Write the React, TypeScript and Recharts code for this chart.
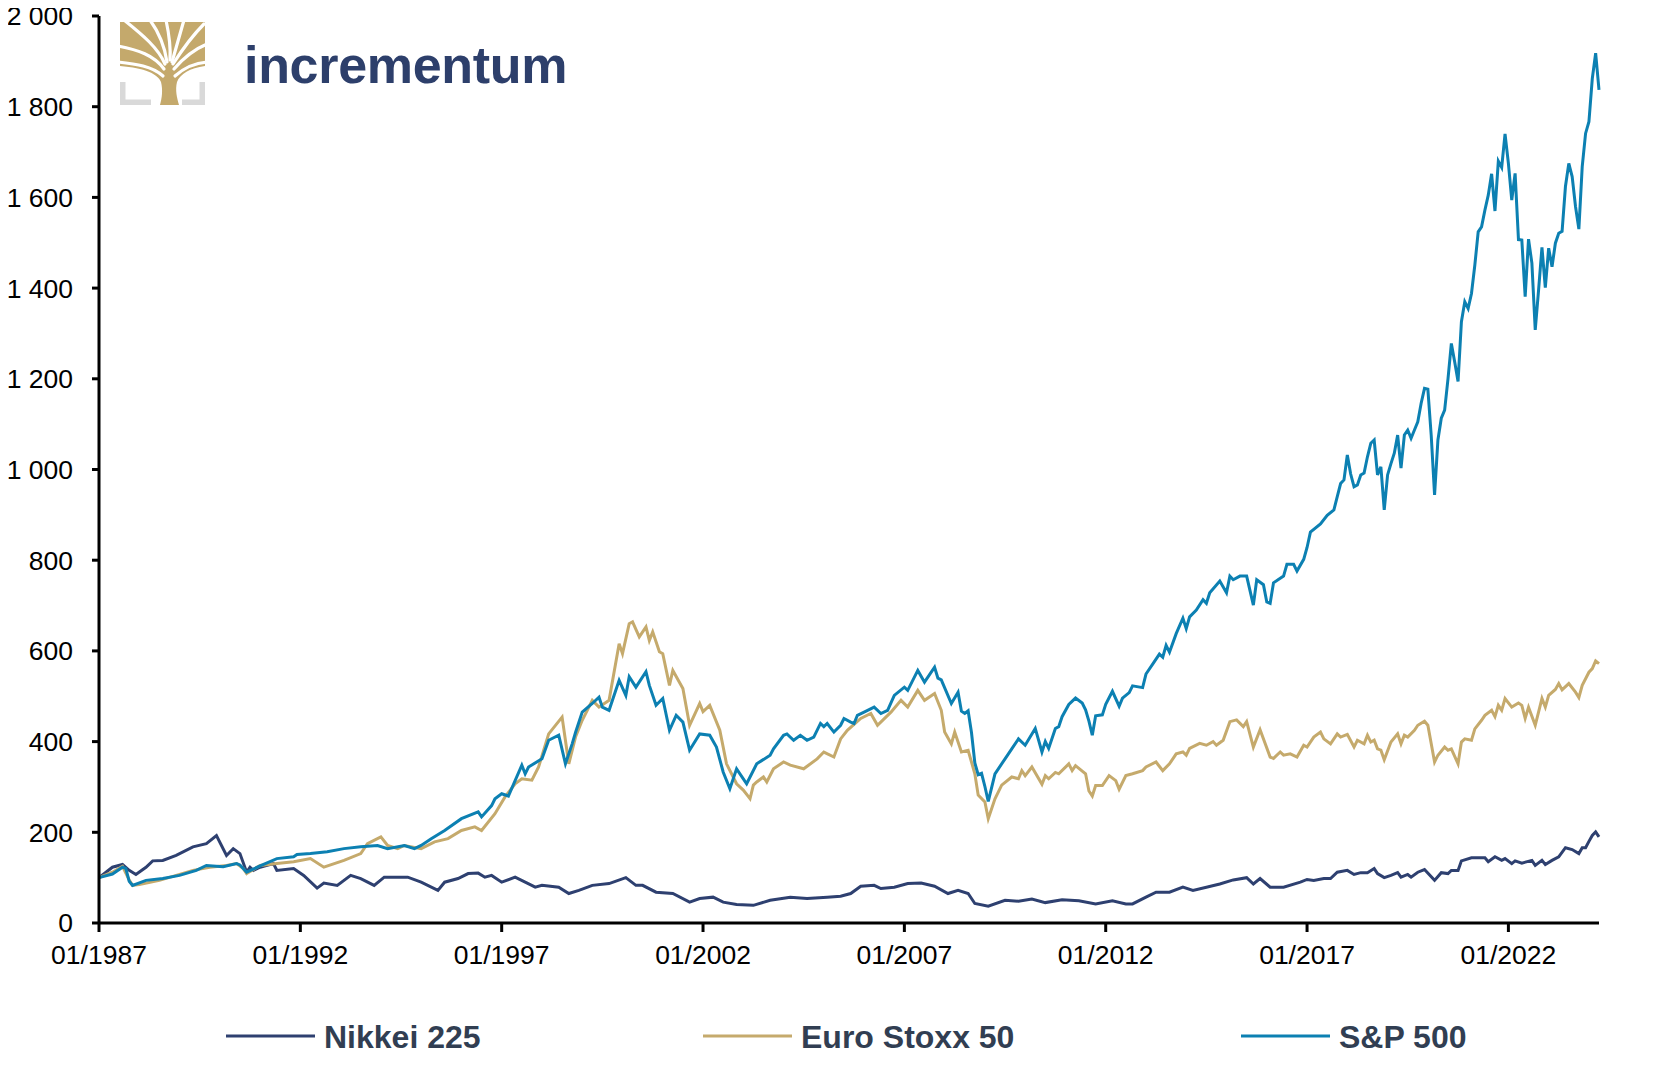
import { Line, LineChart, XAxis, YAxis } from "recharts";

// monthly index levels, 01/1987 = 100, read off the reference chart
const nikkei225: [string, number][] = [
	["1987-01", 100], ["1987-05", 123], ["1987-08", 129], ["1987-10", 116], ["1987-12", 107],
	["1988-03", 123], ["1988-05", 137], ["1988-08", 138], ["1988-12", 149], ["1989-05", 168],
	["1989-09", 175], ["1989-12", 193], ["1990-03", 149], ["1990-05", 164], ["1990-07", 153],
	["1990-09", 112], ["1990-10", 123], ["1990-11", 116], ["1991-01", 123], ["1991-05", 131],
	["1991-06", 116], ["1991-11", 120], ["1992-02", 105], ["1992-06", 77], ["1992-08", 88],
	["1992-12", 83], ["1993-04", 105], ["1993-07", 98], ["1993-11", 83], ["1994-02", 101],
	["1994-05", 101], ["1994-09", 101], ["1995-01", 90], ["1995-06", 72], ["1995-08", 90],
	["1995-12", 98], ["1996-03", 109], ["1996-06", 110], ["1996-08", 101], ["1996-10", 105],
	["1997-01", 90], ["1997-05", 101], ["1997-08", 90], ["1997-11", 79], ["1998-01", 83],
	["1998-06", 79], ["1998-09", 65], ["1998-12", 72], ["1999-04", 83], ["1999-09", 87],
	["2000-02", 100], ["2000-05", 83], ["2000-07", 83], ["2000-11", 68], ["2001-04", 65],
	["2001-09", 46], ["2001-12", 54], ["2002-04", 57], ["2002-07", 46], ["2002-11", 41],
	["2003-04", 39], ["2003-09", 50], ["2004-03", 57], ["2004-08", 54], ["2005-02", 57],
	["2005-06", 59], ["2005-09", 65], ["2005-12", 81], ["2006-04", 83], ["2006-06", 76],
	["2006-10", 79], ["2007-02", 87], ["2007-06", 88], ["2007-10", 81], ["2008-02", 65],
	["2008-05", 72], ["2008-08", 65], ["2008-10", 43], ["2009-02", 37], ["2009-07", 50],
	["2009-11", 48], ["2010-03", 53], ["2010-07", 45], ["2010-12", 51], ["2011-05", 49],
	["2011-10", 42], ["2012-03", 49], ["2012-07", 42], ["2012-09", 42], ["2013-01", 57],
	["2013-04", 68], ["2013-08", 68], ["2013-12", 79], ["2014-03", 72], ["2014-07", 79],
	["2014-11", 86], ["2015-03", 95], ["2015-07", 100], ["2015-09", 86], ["2015-11", 98],
	["2016-02", 79], ["2016-06", 79], ["2016-11", 90], ["2017-01", 96], ["2017-03", 94],
	["2017-06", 98], ["2017-08", 98], ["2017-10", 112], ["2018-01", 116], ["2018-03", 107],
	["2018-05", 111], ["2018-07", 111], ["2018-09", 120], ["2018-10", 109], ["2018-12", 100],
	["2019-02", 105], ["2019-04", 111], ["2019-05", 101], ["2019-07", 107], ["2019-08", 101],
	["2019-10", 112], ["2019-12", 118], ["2020-03", 94], ["2020-05", 111], ["2020-07", 109],
	["2020-08", 116], ["2020-10", 116], ["2020-11", 137], ["2021-02", 144], ["2021-06", 144],
	["2021-07", 135], ["2021-09", 146], ["2021-11", 138], ["2021-12", 142], ["2022-02", 131],
	["2022-03", 137], ["2022-05", 132], ["2022-08", 138], ["2022-09", 127], ["2022-11", 138],
	["2022-12", 129], ["2023-02", 138], ["2023-04", 146], ["2023-06", 166], ["2023-08", 162],
	["2023-10", 153], ["2023-11", 166], ["2023-12", 166], ["2024-01", 180], ["2024-02", 193],
	["2024-03", 201], ["2024-04", 190],
];

const euroStoxx50: [string, number][] = [
	["1987-01", 100], ["1987-05", 112], ["1987-08", 125], ["1987-10", 95], ["1987-11", 83],
	["1988-01", 85], ["1988-07", 94], ["1989-05", 116], ["1989-10", 123], ["1990-03", 127],
	["1990-06", 131], ["1990-08", 120], ["1990-09", 109], ["1991-01", 127], ["1991-06", 131],
	["1991-11", 135], ["1992-04", 142], ["1992-08", 123], ["1993-02", 138], ["1993-07", 153],
	["1993-09", 175], ["1994-01", 190], ["1994-03", 171], ["1994-06", 164], ["1994-08", 171],
	["1995-01", 164], ["1995-05", 179], ["1995-09", 186], ["1996-01", 204], ["1996-05", 212],
	["1996-07", 204], ["1996-11", 241], ["1997-02", 278], ["1997-05", 307], ["1997-07", 318],
	["1997-10", 315], ["1997-12", 344], ["1998-03", 417], ["1998-07", 454], ["1998-09", 351],
	["1998-11", 410], ["1999-01", 447], ["1999-04", 491], ["1999-06", 476], ["1999-09", 491],
	["1999-12", 616], ["2000-01", 594], ["2000-03", 660], ["2000-04", 664], ["2000-06", 631],
	["2000-08", 653], ["2000-09", 623], ["2000-10", 642], ["2000-12", 598], ["2001-01", 594],
	["2001-03", 524], ["2001-04", 557], ["2001-07", 517], ["2001-09", 436], ["2001-12", 484],
	["2002-01", 466], ["2002-03", 480], ["2002-06", 425], ["2002-08", 351], ["2002-11", 307],
	["2003-01", 293], ["2003-03", 274], ["2003-04", 304], ["2003-05", 311], ["2003-07", 322],
	["2003-08", 311], ["2003-10", 340], ["2004-01", 355], ["2004-03", 348], ["2004-07", 340],
	["2004-11", 362], ["2005-01", 377], ["2005-04", 366], ["2005-06", 406], ["2005-08", 425],
	["2005-12", 451], ["2006-03", 462], ["2006-05", 436], ["2006-09", 465], ["2006-12", 491],
	["2007-02", 476], ["2007-05", 513], ["2007-07", 491], ["2007-10", 506], ["2007-12", 469],
	["2008-01", 421], ["2008-03", 395], ["2008-04", 421], ["2008-06", 377], ["2008-08", 381],
	["2008-10", 329], ["2008-11", 282], ["2009-01", 267], ["2009-02", 230], ["2009-04", 274],
	["2009-06", 304], ["2009-09", 322], ["2009-11", 318], ["2009-12", 336], ["2010-01", 325],
	["2010-03", 344], ["2010-06", 306], ["2010-07", 325], ["2010-08", 318], ["2010-10", 332],
	["2010-11", 329], ["2011-02", 351], ["2011-03", 336], ["2011-04", 347], ["2011-07", 329],
	["2011-08", 291], ["2011-09", 280], ["2011-10", 303], ["2011-12", 303], ["2012-02", 325],
	["2012-04", 314], ["2012-05", 295], ["2012-07", 325], ["2012-09", 329], ["2012-12", 336],
	["2013-01", 344], ["2013-04", 355], ["2013-06", 336], ["2013-08", 351], ["2013-10", 373],
	["2013-12", 377], ["2014-01", 370], ["2014-02", 385], ["2014-05", 396], ["2014-07", 392],
	["2014-09", 400], ["2014-10", 392], ["2014-12", 403], ["2015-02", 444], ["2015-04", 448],
	["2015-06", 433], ["2015-07", 444], ["2015-09", 388], ["2015-11", 426], ["2016-02", 366],
	["2016-03", 363], ["2016-05", 377], ["2016-06", 370], ["2016-08", 373], ["2016-10", 366],
	["2016-12", 392], ["2017-01", 388], ["2017-03", 410], ["2017-05", 421], ["2017-06", 406],
	["2017-08", 395], ["2017-10", 417], ["2017-11", 410], ["2018-01", 416], ["2018-03", 388],
	["2018-04", 403], ["2018-06", 395], ["2018-07", 414], ["2018-08", 399], ["2018-09", 403],
	["2018-10", 384], ["2018-11", 381], ["2018-12", 360], ["2019-02", 399], ["2019-04", 417],
	["2019-05", 395], ["2019-06", 414], ["2019-07", 410], ["2019-09", 425], ["2019-10", 436],
	["2019-12", 445], ["2020-01", 436], ["2020-03", 355], ["2020-04", 370], ["2020-06", 388],
	["2020-07", 381], ["2020-08", 384], ["2020-10", 351], ["2020-11", 399], ["2020-12", 406],
	["2021-02", 403], ["2021-03", 428], ["2021-05", 447], ["2021-06", 458], ["2021-08", 469],
	["2021-09", 455], ["2021-10", 480], ["2021-11", 469], ["2021-12", 495], ["2022-02", 476],
	["2022-04", 485], ["2022-05", 480], ["2022-06", 451], ["2022-07", 476], ["2022-09", 436],
	["2022-11", 495], ["2022-12", 476], ["2023-01", 502], ["2023-03", 515], ["2023-04", 528],
	["2023-05", 514], ["2023-07", 528], ["2023-09", 509], ["2023-10", 497], ["2023-11", 524],
	["2024-01", 553], ["2024-02", 561], ["2024-03", 578], ["2024-04", 572],
];

const sp500: [string, number][] = [
	["1987-01", 100], ["1987-05", 108], ["1987-08", 123], ["1987-09", 120], ["1987-10", 92],
	["1987-11", 83], ["1988-03", 94], ["1988-08", 98], ["1989-01", 105], ["1989-06", 116],
	["1989-09", 127], ["1990-02", 124], ["1990-06", 131], ["1990-07", 128], ["1990-09", 112],
	["1991-01", 126], ["1991-06", 142], ["1991-11", 146], ["1991-12", 151], ["1992-04", 153],
	["1992-09", 157], ["1993-02", 164], ["1993-07", 168], ["1993-12", 171], ["1994-03", 164],
	["1994-08", 171], ["1994-11", 164], ["1995-01", 171], ["1995-04", 186], ["1995-08", 204],
	["1996-01", 230], ["1996-06", 245], ["1996-07", 234], ["1996-10", 259], ["1996-11", 274],
	["1997-01", 285], ["1997-03", 280], ["1997-07", 348], ["1997-08", 329], ["1997-09", 344],
	["1998-01", 362], ["1998-03", 403], ["1998-06", 414], ["1998-08", 351], ["1998-10", 395],
	["1998-11", 420], ["1999-01", 465], ["1999-04", 484], ["1999-06", 498], ["1999-07", 476],
	["1999-09", 469], ["1999-12", 535], ["2000-02", 502], ["2000-03", 543], ["2000-05", 520],
	["2000-08", 554], ["2000-09", 524], ["2000-11", 480], ["2001-01", 495], ["2001-03", 425],
	["2001-05", 458], ["2001-07", 443], ["2001-09", 381], ["2001-12", 417], ["2002-03", 414],
	["2002-05", 388], ["2002-07", 333], ["2002-09", 296], ["2002-11", 340], ["2003-02", 307],
	["2003-05", 351], ["2003-09", 370], ["2003-10", 384], ["2004-01", 414], ["2004-02", 417],
	["2004-04", 403], ["2004-06", 414], ["2004-08", 403], ["2004-10", 410], ["2004-12", 440],
	["2005-01", 433], ["2005-02", 440], ["2005-04", 421], ["2005-06", 436], ["2005-07", 451],
	["2005-09", 443], ["2005-10", 440], ["2005-11", 458], ["2006-01", 465], ["2006-04", 476],
	["2006-06", 462], ["2006-08", 469], ["2006-10", 502], ["2007-01", 520], ["2007-02", 513],
	["2007-05", 557], ["2007-07", 531], ["2007-10", 564], ["2007-11", 540], ["2007-12", 536],
	["2008-03", 484], ["2008-05", 509], ["2008-06", 467], ["2008-07", 462], ["2008-08", 468],
	["2008-09", 420], ["2008-10", 353], ["2008-11", 327], ["2008-12", 330], ["2009-01", 301],
	["2009-02", 268], ["2009-04", 329], ["2009-07", 362], ["2009-09", 384], ["2009-11", 406],
	["2010-01", 392], ["2010-04", 429], ["2010-06", 377], ["2010-07", 400], ["2010-08", 385],
	["2010-10", 429], ["2010-11", 433], ["2010-12", 455], ["2011-02", 482], ["2011-04", 496],
	["2011-06", 485], ["2011-07", 470], ["2011-08", 445], ["2011-09", 414], ["2011-10", 457],
	["2011-12", 459], ["2012-01", 482], ["2012-03", 511], ["2012-05", 478], ["2012-06", 496],
	["2012-08", 508], ["2012-09", 523], ["2012-12", 519], ["2013-01", 549], ["2013-03", 571],
	["2013-05", 593], ["2013-06", 586], ["2013-07", 612], ["2013-08", 597], ["2013-10", 638],
	["2013-12", 672], ["2014-01", 649], ["2014-02", 675], ["2014-04", 690], ["2014-06", 713],
	["2014-07", 705], ["2014-08", 728], ["2014-11", 754], ["2015-01", 728], ["2015-02", 765],
	["2015-03", 757], ["2015-05", 765], ["2015-07", 765], ["2015-09", 701], ["2015-10", 757],
	["2015-12", 746], ["2016-01", 708], ["2016-02", 705], ["2016-03", 750], ["2016-06", 765],
	["2016-07", 791], ["2016-09", 791], ["2016-10", 776], ["2016-12", 802], ["2017-01", 828],
	["2017-02", 862], ["2017-05", 880], ["2017-07", 899], ["2017-09", 911], ["2017-10", 940],
	["2017-11", 969], ["2017-12", 977], ["2018-01", 1032], ["2018-02", 990], ["2018-03", 962],
	["2018-04", 966], ["2018-05", 988], ["2018-06", 992], ["2018-07", 1028], ["2018-08", 1058],
	["2018-09", 1065], ["2018-10", 988], ["2018-11", 1006], ["2018-12", 911], ["2019-01", 988],
	["2019-02", 1013], ["2019-03", 1036], ["2019-04", 1076], ["2019-05", 1003], ["2019-06", 1076],
	["2019-07", 1087], ["2019-08", 1069], ["2019-09", 1087], ["2019-10", 1105], ["2019-11", 1146],
	["2019-12", 1179], ["2020-01", 1177], ["2020-02", 1075], ["2020-03", 944], ["2020-04", 1065],
	["2020-05", 1113], ["2020-06", 1131], ["2020-07", 1200], ["2020-08", 1278], ["2020-09", 1237],
	["2020-10", 1194], ["2020-11", 1326], ["2020-12", 1370], ["2021-01", 1355], ["2021-02", 1388],
	["2021-03", 1451], ["2021-04", 1524], ["2021-05", 1535], ["2021-06", 1572], ["2021-07", 1605],
	["2021-08", 1652], ["2021-09", 1570], ["2021-10", 1680], ["2021-11", 1666], ["2021-12", 1740],
	["2022-01", 1675], ["2022-02", 1594], ["2022-03", 1653], ["2022-04", 1507], ["2022-05", 1506],
	["2022-06", 1381], ["2022-07", 1508], ["2022-08", 1455], ["2022-09", 1308], ["2022-10", 1396],
	["2022-11", 1490], ["2022-12", 1401], ["2023-01", 1488], ["2023-02", 1447], ["2023-03", 1499],
	["2023-04", 1521], ["2023-05", 1525], ["2023-06", 1624], ["2023-07", 1675], ["2023-08", 1646],
	["2023-09", 1580], ["2023-10", 1530], ["2023-11", 1668], ["2023-12", 1741], ["2024-01", 1767],
	["2024-02", 1862], ["2024-03", 1918], ["2024-04", 1837],
];

const xTickYears = [1987, 1992, 1997, 2002, 2007, 2012, 2017, 2022];
const yTickValues = [0, 200, 400, 600, 800, 1000, 1200, 1400, 1600, 1800, 2000];

const COLORS = {
	nikkei: "#2E4070",
	euro: "#C5AA6C",
	sp: "#0C80B2",
	logo: "#2D3F6B",
	legend: "#313E52",
};

const FONT = "'Liberation Sans', Arial, sans-serif";

// "1987-04" -> 1987.25
function toPoints(list: [string, number][]) {
	return list.map(([d, v]) => {
		const [y, m] = d.split("-").map(Number);
		return { t: y + (m - 1) / 12, v };
	});
}

const fmtThousands = (v: number) =>
	String(v).replace(/\B(?=(\d{3})+(?!\d))/g, " ");

function Logo() {
	return (
		<g>
			<g transform="translate(112,22)">
				{/* gold crown + trunk */}
				<path
					d="M0,0 H85 V44 C70,46 60,52 57,60 C55,68 57,76 59,83 H40 C42,76 43,68 41,60 C38,52 25,46 0,44 Z"
					fill="#C4A96C"
				/>
				{/* white gaps between branches */}
				<g stroke="#fff" strokeWidth={3.2} fill="none" strokeLinecap="round">
					<path d="M43,54 C32,44 16,42 -2,40" />
					<path d="M44,47 C34,33 18,28 -2,24" />
					<path d="M45,42 C38,26 24,14 4,-2" />
					<path d="M47,40 C45,26 40,12 30,-2" />
					<path d="M50,38 C51,24 49,12 46,-2" />
					<path d="M52,40 C56,26 60,12 64,-2" />
					<path d="M53,42 C62,28 70,16 84,2" />
					<path d="M54,47 C65,34 75,27 87,22" />
					<path d="M55,54 C65,45 75,41 87,40" />
				</g>
				{/* grey corner brackets */}
				<path d="M0,60 H5.5 V77.5 H31 V83 H0 Z" fill="#D9D9D9" />
				<path d="M85,60 H79.5 V77.5 H62 V83 H85 Z" fill="#D9D9D9" />
			</g>
			<text
				x={236}
				y={83}
				fontFamily={FONT}
				fontWeight={700}
				fontSize={52}
				fill={COLORS.logo}
				letterSpacing={-0.3}
			>
				incrementum
			</text>
		</g>
	);
}

function LegendRow() {
	const items = [
		{ label: "Nikkei 225", color: COLORS.nikkei, x: 218 },
		{ label: "Euro Stoxx 50", color: COLORS.euro, x: 695 },
		{ label: "S&P 500", color: COLORS.sp, x: 1233 },
	];
	return (
		<g>
			{items.map((it) => (
				<g key={it.label}>
					<line
						x1={it.x}
						x2={it.x + 89}
						y1={1036}
						y2={1036}
						stroke={it.color}
						strokeWidth={3}
					/>
					<text
						x={it.x + 98}
						y={1047.5}
						fontFamily={FONT}
						fontWeight={700}
						fontSize={32}
						fill={COLORS.legend}
					>
						{it.label}
					</text>
				</g>
			))}
		</g>
	);
}

export default function App() {
	const tickStyle = { fontSize: 26.5, fill: "#000", fontFamily: FONT };
	// wrapper pulled up over the body margin so the top tick label is not clipped
	return (
		<div
			style={{
				position: "relative",
				width: 1669,
				height: 1066,
				marginTop: -8,
				fontFamily: FONT,
			}}
		>
			<LineChart
				width={1620}
				height={1008}
				margin={{ top: 16, right: 29, left: 0, bottom: 0 }}
			>
				<XAxis
					dataKey="t"
					type="number"
					domain={[1987, 2024.25]}
					ticks={xTickYears}
					tickFormatter={(v: number) => `01/${v}`}
					height={85}
					tickSize={9}
					tickMargin={13}
					tick={tickStyle}
					axisLine={{ stroke: "#000", strokeWidth: 3 }}
					tickLine={{ stroke: "#000", strokeWidth: 3 }}
					interval={0}
				/>
				<YAxis
					type="number"
					domain={[0, 2000]}
					ticks={yTickValues}
					tickFormatter={fmtThousands}
					width={91}
					tickSize={7}
					tickMargin={19}
					tick={tickStyle}
					axisLine={{ stroke: "#000", strokeWidth: 3 }}
					tickLine={{ stroke: "#000", strokeWidth: 3 }}
					interval={0}
				/>
				<Line
					data={toPoints(nikkei225)}
					dataKey="v"
					name="Nikkei 225"
					type="linear"
					stroke={COLORS.nikkei}
					strokeWidth={3}
					dot={false}
					isAnimationActive={false}
				/>
				<Line
					data={toPoints(euroStoxx50)}
					dataKey="v"
					name="Euro Stoxx 50"
					type="linear"
					stroke={COLORS.euro}
					strokeWidth={3}
					dot={false}
					isAnimationActive={false}
				/>
				<Line
					data={toPoints(sp500)}
					dataKey="v"
					name="S&P 500"
					type="linear"
					stroke={COLORS.sp}
					strokeWidth={3}
					dot={false}
					isAnimationActive={false}
				/>
			</LineChart>
			<svg
				width={1669}
				height={1066}
				style={{ position: "absolute", left: 0, top: 0, pointerEvents: "none" }}
			>
				<Logo />
				<LegendRow />
			</svg>
		</div>
	);
}
